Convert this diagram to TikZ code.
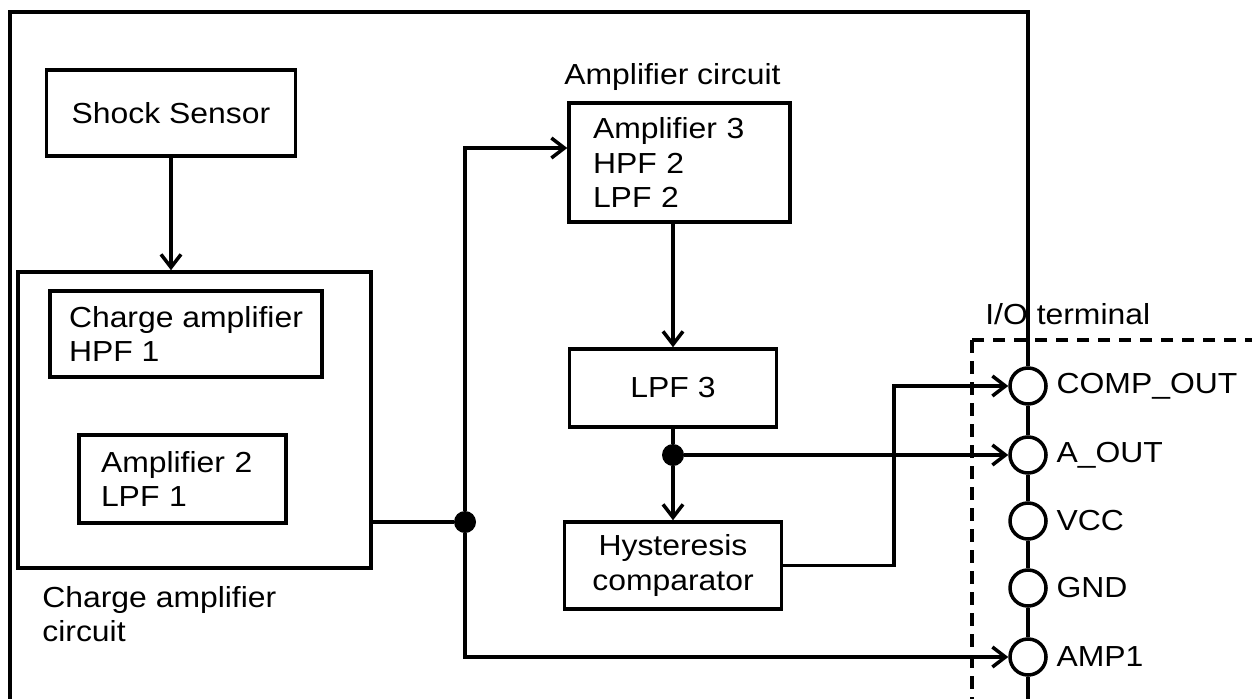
\documentclass[tikz,border=0pt]{standalone}
\usepackage{fontspec}
\setmainfont[FakeStretch=1.1]{Liberation Sans}
\usetikzlibrary{arrows.meta,positioning,calc}
\tikzset{box/.style={draw,line width=2pt,inner sep=0pt,align=center},wire/.style={line width=2pt},flow/.style={wire,-{Straight Barb[length=2.6mm,width=4mm,line width=2pt]}},pin/.style={circle,draw,line width=2pt,minimum size=7.2mm,inner sep=0pt},pinlbl/.style={inner sep=1.7mm},dot/.style={circle,fill,inner sep=0pt,minimum size=4.4mm},tag/.style={inner sep=0pt,anchor=west,align=left}}
\begin{document}
\begin{tikzpicture}[x=0.2mm,y=-0.2mm,font=\fontsize{16.5}{19.5}\selectfont]
\useasboundingbox (0,0) rectangle (1252,698);
\clip (0,0) rectangle (1252,698);
\coordinate (fbl) at (10,710); \coordinate (ftl) at (10,12); \coordinate (ftr) at (1028,12); \coordinate (fbr) at (1028,710);
\draw[wire,dash pattern=on 2.5mm off 1.7mm] (972,340) rectangle (1270,720);
\node[box,minimum width=49.8mm,minimum height=17.2mm] (sensor) at (171,113) {Shock Sensor};
\node[box,minimum width=70.6mm,minimum height=59.2mm] (chg) at (194.5,420) {};
\node[box,align=left,minimum width=54.4mm,minimum height=17.2mm] (hpf) at (186,334) {Charge amplifier\\HPF 1};
\node[box,align=left,text width=32.6mm,inner xsep=4.4mm,minimum height=17.6mm] (amp2) at (182.5,479) {Amplifier 2\\LPF 1};
\node[tag] (chglbl) at (42,614) {Charge amplifier\\circuit};
\node[box,align=left,text width=34.6mm,inner xsep=4.8mm,minimum height=23.8mm] (amp3) at (679.5,162.5) {Amplifier 3\\HPF 2\\LPF 2};
\node[tag] (amplbl) at (564,77) {Amplifier circuit};
\node[box,minimum width=41.4mm,minimum height=15.6mm] (lpf) at (673,388) {LPF 3};
\node[box,minimum width=43.4mm,minimum height=17.4mm] (hys) at (673,565.5) {Hysteresis\\comparator};
\node[tag] (iolbl) at (985,314) {I/O terminal};
\node[dot] (ja) at (465,522) {};
\node[dot] (jb) at (673,455) {};
\coordinate (bend) at (894,386);
\foreach \n/\yy/\txt in {p1/386/COMP\_OUT,p2/455/A\_OUT,p3/521/VCC,p4/588/GND,p5/657/AMP1}{\node[pin,label={[pinlbl]right:\txt}] (\n) at (1028,\yy) {};}
\draw[wire] (fbl)--(ftl)--(ftr)--(p1);
\foreach \aa/\bb in {p1/p2,p2/p3,p3/p4,p4/p5}{\draw[wire](\aa)--(\bb);}
\draw[wire] (p5)--(fbr);
\draw[flow] (sensor.south)--(sensor.south |- chg.north);
\draw[wire] (chg.east |- ja)--(ja);
\draw[flow] (ja) |- ([yshift=2.9mm]amp3.west);
\draw[flow] (ja) |- (p5);
\draw[flow] (amp3.south -| lpf.north)--(lpf.north);
\draw[wire] (lpf)--(jb);
\draw[flow] (jb)--(hys);
\draw[flow] (jb)--(p2);
\draw[flow] (hys.east) -| (bend)--(p1);
\end{tikzpicture}
\end{document}
